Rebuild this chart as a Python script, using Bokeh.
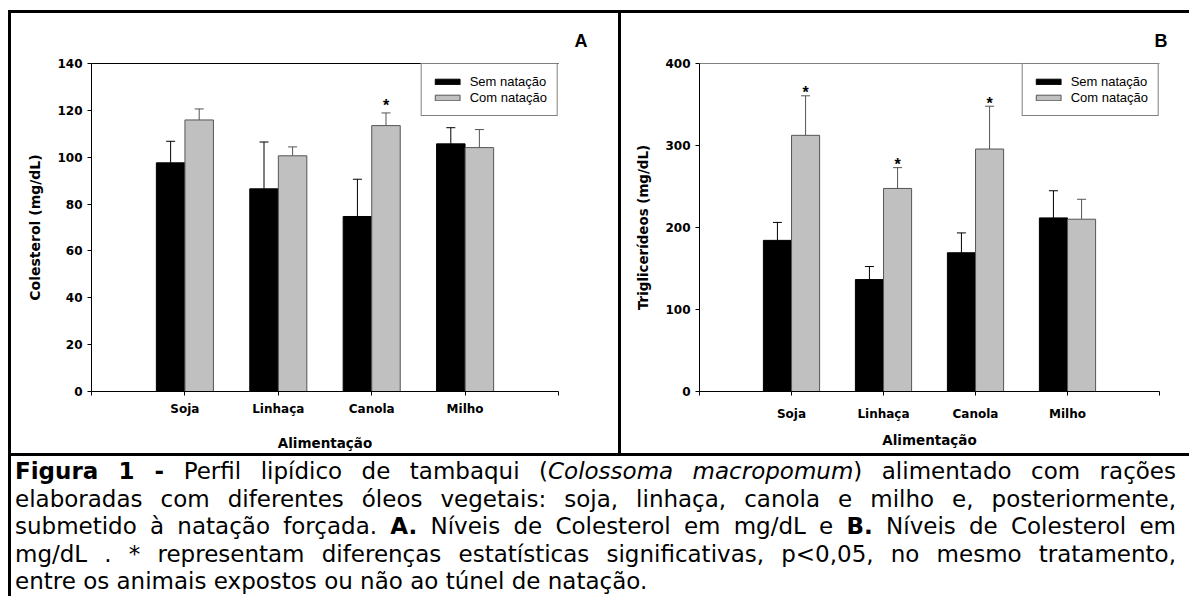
import numpy as np
from bokeh.plotting import figure
from bokeh.models import (ColumnDataSource, Range1d, LinearAxis, FixedTicker, Whisker,
                          TeeHead, Title, Div, Spacer, Legend)
from bokeh.layouts import row, column
from bokeh.core.properties import value
from bokeh.embed import file_html
from bokeh.resources import INLINE

# ---------------- data ----------------
categories = ["Soja", "Linhaça", "Canola", "Milho"]
series = ["Sem natação", "Com natação"]

chol_sem = [97.6, 86.5, 74.7, 105.7]
chol_sem_sd = [9.2, 20.0, 15.9, 6.9]
chol_com = [115.9, 100.6, 113.5, 104.1]
chol_com_sd = [4.7, 3.8, 5.4, 7.7]
chol_sig = [False, False, True, False]
chol_ticks = [0, 20, 40, 60, 80, 100, 120, 140]

tg_sem = [184.3, 136.5, 169.2, 211.7]
tg_sem_sd = [21.9, 15.9, 24.2, 33.1]
tg_com = [312.4, 247.6, 295.7, 210.1]
tg_com_sd = [48.2, 25.4, 52.2, 24.3]
tg_sig = [True, True, True, False]
tg_ticks = [0, 100, 200, 300, 400]

x_title = "Alimentação"
y_title_a = "Colesterol (mg/dL)"
y_title_b = "Triglicerídeos (mg/dL)"

caption_lines = [
    "<b>Figura 1 -</b> Perfil lipídico de tambaqui (<i>Colossoma macropomum</i>) alimentado com rações",
    "elaboradas com diferentes óleos vegetais: soja, linhaça, canola e milho e, posteriormente,",
    "submetido à natação forçada. <b>A.</b> Níveis de Colesterol em mg/dL e <b>B.</b> Níveis de Colesterol em",
    "mg/dL . * representam diferenças estatísticas significativas, p&lt;0,05, no mesmo tratamento,",
    "entre os animais expostos ou não ao túnel de natação.",
]

BLACK = "black"
GRAY = "#c0c0c0"
GRAY_LINE = "#555555"
TICK_FONT = "DejaVu Sans"


def make_panel(sem, sem_sd, com, com_sd, sig, yticks, ytitle, ytitle_size, letter, letter_offset,
               width, ml, mr, mt, mb, top_color, cat_standoff, title_standoff, star_dy):
    n = len(categories)
    centers = np.arange(1, n + 1)
    off, bw = 0.153, 0.305
    p = figure(width=width, height=440, x_range=Range1d(0, n + 1),
               y_range=Range1d(yticks[0], yticks[-1]), title=None,
               output_backend="svg", toolbar_location=None,
               x_axis_type=None, y_axis_type=None,
               min_border_left=ml, min_border_right=mr, min_border_top=mt, min_border_bottom=mb,
               outline_line_color=None, background_fill_color="white", border_fill_color="white")

    overrides = {0: "", n + 1: ""}
    for i, c in enumerate(categories):
        overrides[i + 1] = c
    xa = LinearAxis(ticker=FixedTicker(ticks=list(range(0, n + 2))),
                    major_label_overrides=overrides)
    ya = LinearAxis(ticker=FixedTicker(ticks=yticks))
    for ax in (xa, ya):
        ax.major_tick_in = 0
        ax.major_tick_out = 4
        ax.minor_tick_line_color = None
        ax.axis_line_color = "black"
        ax.major_tick_line_color = "black"
        ax.major_label_text_font = TICK_FONT
        ax.major_label_text_font_style = "bold"
        ax.major_label_text_font_size = "12px"
        ax.major_label_text_color = "black"
        ax.axis_label_text_font = TICK_FONT
        ax.axis_label_text_font_style = "bold"
        ax.axis_label_text_color = "black"
    xa.axis_label = x_title
    xa.axis_label_text_font_size = "13.5px"
    xa.major_label_standoff = cat_standoff
    xa.axis_label_standoff = title_standoff
    ya.axis_label = ytitle
    ya.axis_label_text_font_size = ytitle_size
    ya.major_label_standoff = 5
    ya.axis_label_standoff = 11
    p.add_layout(xa, "below")
    p.add_layout(ya, "left")
    top = LinearAxis(ticker=FixedTicker(ticks=[]), axis_line_color=top_color,
                     major_tick_line_color=None, minor_tick_line_color=None,
                     major_tick_out=0, major_tick_in=0, major_label_standoff=0,
                     major_label_text_font_size="0px")
    p.add_layout(top, "above")
    p.add_layout(Title(text=letter, align="right", offset=letter_offset, standoff=26,
                       text_font="Liberation Sans", text_font_style="bold",
                       text_font_size="18px", text_color="black"), "above")

    src = ColumnDataSource(dict(
        x_sem=centers - off, x_com=centers + off,
        sem=sem, com=com,
        sem_top=np.add(sem, sem_sd), com_top=np.add(com, com_sd),
    ))
    r1 = p.vbar(x="x_sem", top="sem", bottom=0, width=bw, fill_color=BLACK,
                line_color=BLACK, line_width=1, source=src)
    r2 = p.vbar(x="x_com", top="com", bottom=0, width=bw, fill_color=GRAY,
                line_color=GRAY_LINE, line_width=1, source=src)

    p.add_layout(Whisker(source=src, base="x_sem", lower="sem", upper="sem_top",
                         line_color=BLACK, line_width=1, lower_head=None,
                         upper_head=TeeHead(size=9, line_color=BLACK, line_width=1)))
    p.add_layout(Whisker(source=src, base="x_com", lower="com", upper="com_top",
                         line_color=GRAY_LINE, line_width=1, lower_head=None,
                         upper_head=TeeHead(size=9, line_color=GRAY_LINE, line_width=1)))

    sx = [c + off for c, s in zip(centers, sig) if s]
    sy = [v + e for v, e, s in zip(com, com_sd, sig) if s]
    p.text(x=sx, y=sy, text=["*"] * len(sx), text_align="center", text_baseline="alphabetic",
           y_offset=star_dy, text_font=value("Liberation Sans"), text_font_style="bold",
           text_font_size="16px", text_color="black")

    legend = Legend(items=[(series[0], [r1]), (series[1], [r2])], location="top_right",
                    margin=0, padding=10, spacing=1, label_height=15, glyph_height=7,
                    glyph_width=31, label_standoff=7, label_text_font="Liberation Sans",
                    label_text_font_size="13px", label_text_color="black",
                    border_line_color="black", border_line_width=1,
                    background_fill_color="white", background_fill_alpha=1.0)
    p.add_layout(legend)
    return p


pA = make_panel(chol_sem, chol_sem_sd, chol_com, chol_com_sd, chol_sig, chol_ticks,
                y_title_a, "14px", "A", -29, 607, 80, 60, 49, 56, "black", 6, 16, -7)
pB = make_panel(tg_sem, tg_sem_sd, tg_com, tg_com_sd, tg_sig, tg_ticks,
                y_title_b, "13.4px", "B", -8, 568, 78, 30, 50, 55, "#808080", 11, 8, -3)

BL = {"background-color": "black"}
INNER_W = 1181  # from x=8 to the right edge of the window

lines_html = []
for i, ln in enumerate(caption_lines):
    if i < len(caption_lines) - 1:
        lines_html.append('<div style="text-align:justify;text-align-last:justify;'
                          f'white-space:nowrap;">{ln}</div>')
    else:
        lines_html.append(f'<div style="text-align:left;white-space:nowrap;">{ln}</div>')
cap_html = ('<div style="display:block;width:1165px;font-family:\'DejaVu Sans\';font-size:23px;'
            'line-height:27.5px;color:black;padding:2px 0 0 4px;">' + "".join(lines_html) + "</div>")
caption = Div(text=cap_html, width=INNER_W - 3, height=140, margin=0,
              styles={"overflow": "hidden", "background-color": "white"})

inner = column(
    Div(text="", width=INNER_W, height=3, margin=0, styles=BL),
    row(Div(text="", width=3, height=440, margin=0, styles=BL), pA,
        Div(text="", width=3, height=440, margin=0, styles=BL), pB),
    Div(text="", width=INNER_W, height=3, margin=0, styles=BL),
    row(Div(text="", width=3, height=140, margin=0, styles=BL), caption),
)
layout = column(Spacer(width=1189, height=10, margin=0),
                row(Spacer(width=8, height=586, margin=0), inner))

open("out.html", "w").write(file_html(layout, INLINE))
